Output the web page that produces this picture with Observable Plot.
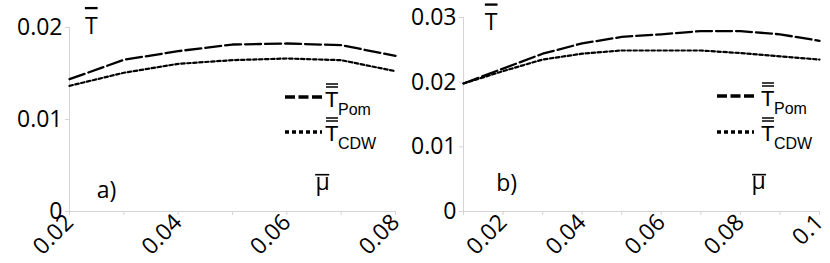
<!DOCTYPE html>
<html><head><meta charset="utf-8">
<script src="https://cdn.jsdelivr.net/npm/d3@7"></script>
<script src="https://cdn.jsdelivr.net/npm/@observablehq/plot@0.6"></script>
<style>
body{margin:0;background:#fff;}
#wrap{position:relative;width:830px;height:263px;overflow:hidden;}
.panel{position:absolute;top:0;height:263px;}
.panel svg{overflow:visible;}
.legend{position:absolute;left:0;top:0;overflow:visible;pointer-events:none;}
</style>
</head><body>
<div id="wrap"><div class="panel" id="pa" style="left:0;width:415px"></div><div class="panel" id="pb" style="left:410px;width:420px"></div></div>
<script>
// Panel a data
const muA = [0.02, 0.03, 0.04, 0.05, 0.06, 0.07, 0.08];
const pomA = [0.01438, 0.01649, 0.01743, 0.01815, 0.01826, 0.01808, 0.01692];
const cdwA = [0.01366, 0.01508, 0.01605, 0.01645, 0.01663, 0.01645, 0.01525];
const yTicksA = [0, 0.01, 0.02];
const xLabelsA = [0.02, 0.04, 0.06, 0.08];
// Panel b data
const muB = [0.01, 0.02, 0.03, 0.04, 0.05, 0.06, 0.07, 0.08, 0.09, 0.10];
const pomB = [0.0198, 0.0221, 0.0244, 0.0260, 0.0270, 0.0274, 0.0279, 0.0279, 0.0274, 0.0264];
const cdwB = [0.0198, 0.0217, 0.0235, 0.0244, 0.0249, 0.0249, 0.0249, 0.0245, 0.0240, 0.0235];
const yTicksB = [0, 0.01, 0.02, 0.03];
const xLabelsB = [0.02, 0.04, 0.06, 0.08, 0.1];
// annotations (data coordinates)
const annA = [{x: 0.0240, y: 0.0193, t: "T"}, {x: 0.0268, y: 0.0015, t: "a)"}, {x: 0.0666, y: 0.0023, t: "μ"}];
const annB = [{x: 0.0170, y: 0.0280, t: "T"}, {x: 0.0209, y: 0.0032, t: "b)"}, {x: 0.0846, y: 0.0035, t: "μ"}];
// bar over μ (data coordinates)
const barA = [{x1: 0.0653, x2: 0.0679, y: 0.0040}];
const barB = [{x1: 0.0831, x2: 0.0866, y: 0.0057}];
const seriesNames = ["Pom", "CDW"];

const fmt = d => d === 0 ? "0" : d3.format(".2~f")(d);
const AX = "#d4d4d4";

function panel(el, o) {
  const pom = o.mu.map((m, i) => ({mu: m, v: o.pom[i]}));
  const cdw = o.mu.map((m, i) => ({mu: m, v: o.cdw[i]}));
  const svg = Plot.plot({
    width: o.width, height: 263,
    marginLeft: o.ml, marginRight: o.mr, marginTop: o.mt, marginBottom: 52,
    x: {domain: [o.mu[0], o.mu[o.mu.length - 1]]},
    y: {domain: [0, o.yTicks[o.yTicks.length - 1]]},
    style: {fontFamily: "'Open Sans', sans-serif", fontSize: "23px", color: "#000", background: "transparent", overflow: "visible"},
    marks: [
      Plot.ruleY([0], {stroke: AX}),
      Plot.ruleX([o.mu[0]], {stroke: AX}),
      Plot.axisX({ticks: o.mu, tickSize: 4, tickFormat: () => "", stroke: AX, label: null}),
      Plot.axisX({ticks: o.xLabels, tickSize: 0, tickPadding: 7, tickRotate: -45, tickFormat: fmt, fill: "#000", label: null}),
      Plot.axisY({ticks: o.yTicks, tickSize: 4, tickPadding: 3, tickFormat: fmt, stroke: AX, fill: "#000", label: null}),
      Plot.line(pom, {x: "mu", y: "v", stroke: "#000", strokeWidth: 2.3, strokeDasharray: "16,4"}),
      Plot.line(cdw, {x: "mu", y: "v", stroke: "#000", strokeWidth: 2.2, strokeDasharray: "3.5,2.5"}),
      Plot.text(o.ann, {x: "x", y: "y", text: "t", lineAnchor: "bottom", fontSize: 23, fill: "#000"}),
      Plot.ruleY(o.bar, {y: "y", x1: "x1", x2: "x2", stroke: "#000", strokeWidth: 1.6})
    ]
  });
  d3.select(svg).selectAll("text").filter(function() { return this.textContent === "T"; })
    .style("text-decoration", "overline");
  el.appendChild(svg);

  // legend
  const L = o.leg;
  const g = d3.select(el).append("svg").attr("class", "legend").attr("width", o.width).attr("height", 263)
    .style("font-family", "'Liberation Sans', Arial, sans-serif");
  const rows = [{dash: "10,3.5", y: L.y1, name: seriesNames[0]}, {dash: "4,3", y: L.y1 + L.dy, name: seriesNames[1]}];
  rows.forEach((r, i) => {
    g.append("line").attr("x1", L.x0).attr("x2", L.x0 + 37).attr("y1", r.y).attr("y2", r.y)
      .attr("stroke", "#000").attr("stroke-width", 3.4).attr("stroke-dasharray", r.dash);
    const tb = r.y + 10 + (i ? -1 : 0);
    g.append("text").attr("x", L.tx).attr("y", tb).attr("font-size", 22).text("T");
    [tb - 23, tb - 20].forEach(yy => g.append("line").attr("x1", L.tx + 1).attr("x2", L.tx + 13)
      .attr("y1", yy).attr("y2", yy).attr("stroke", "#000").attr("stroke-width", 1.5));
    g.append("text").attr("x", L.tx + 13).attr("y", tb + 8).attr("font-size", 16).text(r.name);
  });
}

panel(document.getElementById("pa"), {
  mu: muA, pom: pomA, cdw: cdwA, yTicks: yTicksA, xLabels: xLabelsA, ann: annA, bar: barA,
  width: 415, ml: 69, mr: 20, mt: 27,
  leg: {x0: 285, y1: 97, dy: 35, tx: 325}
});
panel(document.getElementById("pb"), {
  mu: muB, pom: pomB, cdw: cdwB, yTicks: yTicksB, xLabels: xLabelsB, ann: annB, bar: barB,
  width: 420, ml: 53, mr: 11, mt: 17,
  leg: {x0: 717 - 410, y1: 96, dy: 36, tx: 761 - 410}
});
</script>
</body></html>
